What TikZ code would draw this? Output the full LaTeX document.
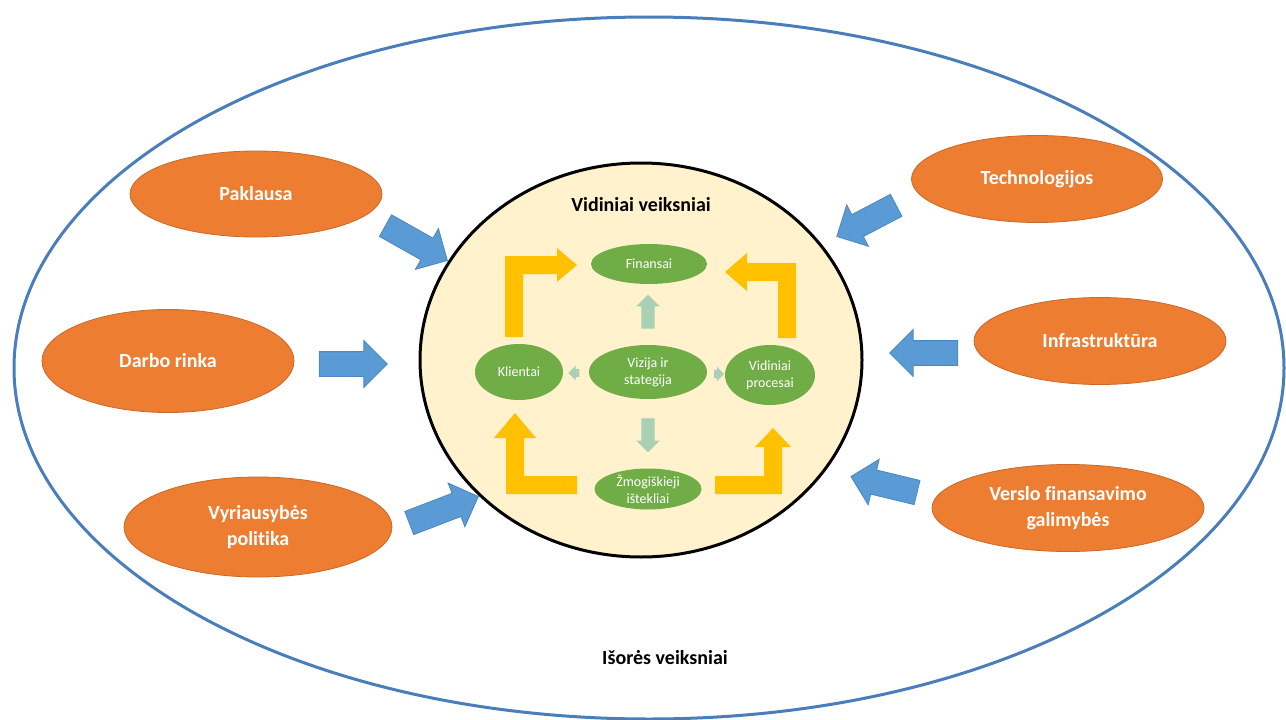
\documentclass[tikz,border=0pt]{standalone}
\usepackage{fontspec}
\setmainfont[Ligatures={NoCommon}]{Carlito}
\usetikzlibrary{shapes.arrows,shapes.geometric}
\definecolor{orng}{HTML}{ED7D31}
\definecolor{orngedge}{HTML}{C9682A}
\definecolor{barrow}{HTML}{5B9BD5}
\definecolor{barrowedge}{HTML}{4A86C0}
\definecolor{outerblue}{HTML}{4A7EBB}
\definecolor{innerfill}{HTML}{FFF2CC}
\definecolor{grn}{HTML}{70AD47}
\definecolor{yel}{HTML}{FFC000}
\definecolor{pale}{RGB}{169,208,180}
\tikzset{
  outerlbl/.style={ellipse, fill=orng, draw=orngedge, line width=0.8pt, text=white,
    font=\fontsize{20}{26}\selectfont\bfseries, align=center, inner sep=0pt},
  grnell/.style={ellipse, fill=grn, text=white, font=\fontsize{14}{17}\selectfont,
    align=center, inner sep=0pt},
  bluearrow/.style={single arrow, fill=barrow, draw=barrowedge, line width=0.8pt,
    inner xsep=0pt, inner ysep=12pt, text height=0pt, text depth=0pt,
    single arrow head extend=11pt, single arrow tip angle=90, minimum height=#1},
  palearrow/.style={single arrow, fill=pale, inner xsep=0pt, inner ysep=6.5pt,
    text height=0pt, text depth=0pt, single arrow head extend=5pt,
    single arrow tip angle=90, minimum height=#1},
  yelarrow/.style={fill=yel},
  title/.style={font=\fontsize{20}{24}\selectfont\bfseries, text=black}
}
\begin{document}
\begin{tikzpicture}[x=1pt,y=-1pt]
\useasboundingbox (0,0) rectangle (1286,720);
\fill[white] (0,0) rectangle (1286,720);
% outer ellipse
\draw[outerblue, line width=3pt] (649,368) ellipse [x radius=635, y radius=351];
\node[title] (outt) at (665,658) {Išorės veiksniai};
% inner circle
\draw[black, line width=3pt, fill=innerfill] (641,360) ellipse [x radius=221, y radius=197];
\node[title] (intt) at (641,205) {Vidiniai veiksniai};
% outer orange ellipses
\node[outerlbl, minimum width=252pt, minimum height=86pt] (pak) at (256,194) {Paklausa};
\node[outerlbl, minimum width=252pt, minimum height=103pt] (dar) at (168,361) {Darbo rinka};
\node[outerlbl, minimum width=268pt, minimum height=100pt] (vyr) at (258,527) {Vyriausybės\\politika};
\node[outerlbl, minimum width=251pt, minimum height=87pt] (tec) at (1037,179) {Technologijos};
\node[outerlbl, minimum width=252pt, minimum height=87pt] (inf) at (1100,341) {Infrastruktūra};
\node[outerlbl, minimum width=272pt, minimum height=87pt] (ver) at (1068,508) {Verslo finansavimo\\galimybės};
% blue arrows
\node[bluearrow=71pt, rotate=-29.4] (a1) at (411,240) {};
\node[bluearrow=68pt] (a2) at (347,364) {};
\node[bluearrow=74pt, rotate=21] (a3) at (438,512) {};
\node[bluearrow=67pt, rotate=207.7] (a4) at (872,218) {};
\node[bluearrow=68pt, rotate=180] (a5) at (930,353) {};
\node[bluearrow=68pt, rotate=166.4] (a6) at (890,486) {};
% green ellipses
\node[grnell, minimum width=116pt, minimum height=40pt] (fin) at (649,264) {Finansai};
\node[grnell, minimum width=88pt, minimum height=56pt] (kli) at (519,372) {Klientai};
\node[grnell, minimum width=118pt, minimum height=54pt] (viz) at (648,372) {Vizija ir\\stategija};
\node[grnell, minimum width=90pt, minimum height=60pt] (vid) at (770,375) {Vidiniai\\procesai};
\node[grnell, minimum width=107pt, minimum height=41pt] (zmo) at (648,489) {Žmogiškieji\\ištekliai};
% pale arrows
\node[palearrow=34pt, rotate=90] (p1) at (648,315) {};
\node[palearrow=34pt, rotate=-90] (p2) at (648,432) {};
\node[palearrow=11pt, inner ysep=4pt, single arrow head extend=3pt, rotate=180] (p3) at (576,373) {};
\node[palearrow=10pt, inner ysep=4pt, single arrow head extend=3pt] (p4) at (717,374) {};
% yellow bent arrows
\fill[yelarrow] (505,337) -- (505,256) -- (557,256) -- (557,248) -- (577,265) -- (557,282) -- (557,274) -- (523,274) -- (523,337) -- cycle;
\fill[yelarrow] (796,338) -- (796,263) -- (747,263) -- (747,253) -- (725,272) -- (747,291) -- (747,281) -- (778,281) -- (778,338) -- cycle;
\fill[yelarrow] (577,494) -- (506,494) -- (506,438) -- (494,438) -- (515,413) -- (536,438) -- (524,438) -- (524,476) -- (577,476) -- cycle;
\fill[yelarrow] (715,494) -- (782,494) -- (782,447) -- (791,447) -- (773,428) -- (755,447) -- (764,447) -- (764,476) -- (715,476) -- cycle;
\end{tikzpicture}
\end{document}
